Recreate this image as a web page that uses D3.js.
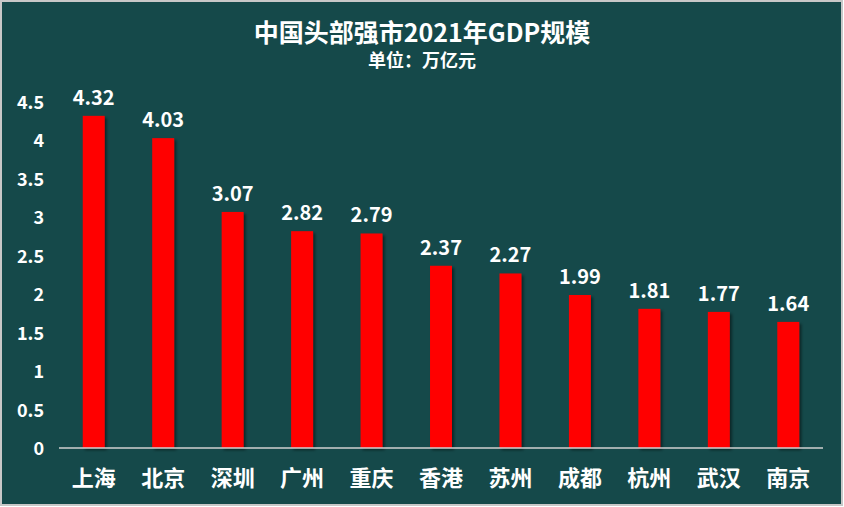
<!DOCTYPE html><html><head><meta charset="utf-8"><script src="https://cdn.jsdelivr.net/npm/d3@7"></script>
<style>body{margin:0;background:#fff}text{font-family:"Noto Sans CJK SC","Noto Sans",sans-serif;font-weight:bold;fill:#fff}</style></head><body>
<script>
const categories=["上海","北京","深圳","广州","重庆","香港","苏州","成都","杭州","武汉","南京"];
const values=[4.32,4.03,3.07,2.82,2.79,2.37,2.27,1.99,1.81,1.77,1.64];
const yTicks=[0,0.5,1,1.5,2,2.5,3,3.5,4,4.5];
const W=844,H=507;
const svg=d3.select("body").append("svg").attr("width",W).attr("height",H);
const defs=svg.append("defs");
const f=defs.append("filter").attr("id","sh").attr("x","-20%").attr("y","-20%").attr("width","160%").attr("height","160%");
f.append("feDropShadow").attr("dx",2).attr("dy",2).attr("stdDeviation",1.5).attr("flood-color","#000").attr("flood-opacity",0.5);
svg.append("rect").attr("x",1).attr("y",1).attr("width",W-3).attr("height",H-3).attr("fill","#15494A").attr("stroke","#c8c8c8").attr("stroke-width",2);
const x=d3.scaleBand().domain(categories).range([59,823]).paddingInner(0.684).paddingOuter(0.342);
const y=d3.scaleLinear().domain([0,4.5]).range([448,102]);
svg.append("text").attr("x",422).attr("y",42).attr("text-anchor","middle").attr("font-size",25).text("中国头部强市2021年GDP规模");
svg.append("text").attr("x",422).attr("y",67).attr("text-anchor","middle").attr("font-size",18).text("单位：万亿元");
svg.selectAll(".yt").data(yTicks).join("text").attr("x",44).attr("y",d=>y(d)+7).attr("text-anchor","end").attr("font-size",18).text(d=>d);
svg.selectAll(".bar").data(values).join("rect").attr("x",(d,i)=>x(categories[i])).attr("width",x.bandwidth()).attr("y",d=>y(d)).attr("height",d=>y(0)-y(d)).attr("fill","#ff0000").attr("filter","url(#sh)");
svg.append("line").attr("x1",59).attr("x2",823).attr("y1",y(0)).attr("y2",y(0)).attr("stroke","#d0d0d0").attr("stroke-width",1.5);
svg.selectAll(".vl").data(values).join("text").attr("x",(d,i)=>x(categories[i])+x.bandwidth()/2).attr("y",d=>y(d)-11).attr("text-anchor","middle").attr("font-size",20).text(d=>d.toFixed(2));
svg.selectAll(".xl").data(categories).join("text").attr("x",d=>x(d)+x.bandwidth()/2).attr("y",486).attr("text-anchor","middle").attr("font-size",22).text(d=>d);
</script></body></html>
